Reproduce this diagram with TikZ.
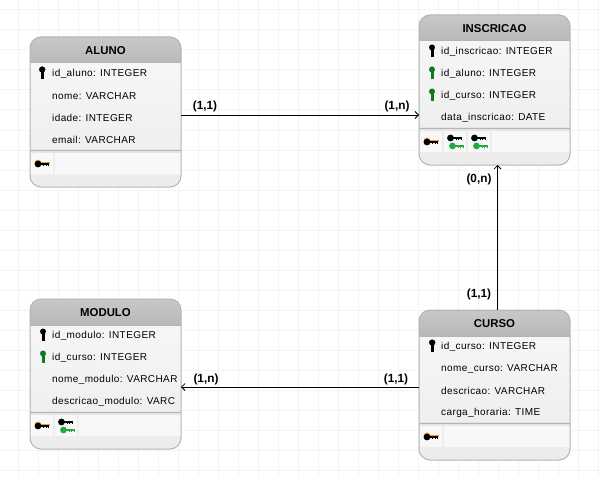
\documentclass[tikz,border=0pt]{standalone}
\usepackage{fontspec}
\setmainfont{Liberation Sans}
\newfontfamily\attrfont[LetterSpace=4]{Liberation Sans}
\usetikzlibrary{arrows.meta,calc,backgrounds}
\definecolor{gridc}{HTML}{EEF4FA}
\definecolor{edgec}{HTML}{B4B4B4}
\definecolor{headT}{HTML}{C8C8C8}
\definecolor{headB}{HTML}{B8B8B8}
\definecolor{bodyT}{HTML}{F6F6F6}
\definecolor{bodyB}{HTML}{ECECEC}
\definecolor{cellc}{HTML}{F8F8F8}
\definecolor{gapc}{HTML}{EDEDED}
\definecolor{keyG}{HTML}{0E7A1E}
\definecolor{keyL}{HTML}{22AA44}
\definecolor{keyO}{HTML}{F0A020}
\tikzset{
  x=1pt,y=-1pt,
  entbox/.style={minimum width=151pt,minimum height=150pt,inner sep=0pt,outer sep=0pt},
  attr/.style={anchor=west,inner sep=0pt,font=\attrfont\fontsize{10}{12}\selectfont,text=black},
  ttl/.style={anchor=center,inner sep=0pt,font=\bfseries\fontsize{11.4}{14}\selectfont},
  card/.style={inner sep=0pt,font=\bfseries\fontsize{11.8}{13}\selectfont},
  rel/.style={draw=black,line width=0.9pt,-{Straight Barb[length=3.5pt,width=7pt,line width=0.8pt]}},
}
% vertical key: centre, colour
\newcommand{\pkey}[2]{%
  \fill[#2] ($(#1)+(0,-3.5)$) circle (3);
  \fill[#2] ($(#1)+(-1.5,-3)$) rectangle ($(#1)+(1.5,6)$);
}
% horizontal key: head centre, colour
\newcommand{\hkey}[2]{%
  \fill[#2] (#1) circle (3.4);
  \fill[#2] ($(#1)+(0,-1.3)$) rectangle ($(#1)+(11,1.3)$);
  \foreach \t in {5,7.5,10} \fill[#2] ($(#1)+(\t,1)$) rectangle ($(#1)+(\t+1,2)$);
}
% primary key icon: black over orange
\newcommand{\opkey}[1]{%
  \fill[keyO] ($(#1)+(0,-2.4)$) rectangle ($(#1)+(12,0)$);
  \fill[keyO] ($(#1)+(0,-1)$) circle (3.4);
  \hkey{$(#1)+(0,0)$}{black}
}
% foreign index key pair: black head centre
\newcommand{\fkeys}[1]{%
  \hkey{$(#1)+(0,0)$}{black}
  \hkey{$(#1)+(2,8)$}{keyL}
}
% entity: name, top-left x, top-left y, title
\newcommand{\entity}[4]{%
  \node[entbox] (#1) at (#2+75.5,#3+75) {};
  \begin{scope}
    \clip[rounded corners=11pt] (#2,#3) rectangle ++(151,150);
    \shade[top color=headT,bottom color=headB] (#2,#3) rectangle ++(151,26);
    \shade[top color=bodyT,bottom color=bodyB] (#2,#3+26) rectangle ++(151,124);
    \fill[black!10] (#2,#3+112) rectangle ++(151,4);
    \fill[cellc] (#2,#3+116) rectangle ++(151,21);
    \fill[gapc] (#2+23,#3+116) rectangle ++(2,21);
    \draw[edgec,line width=1pt] (#2,#3+26) -- ++(151,0);
    \draw[edgec,line width=1pt] (#2,#3+113.5) -- ++(151,0);
  \end{scope}
  \draw[edgec,line width=1pt,rounded corners=11pt] (#2,#3) rectangle ++(151,150);
  \node[ttl] (#1t) at (#2+75.5,#3+14) {#4};
}
\newcommand{\cellgap}[2]{\fill[gapc] (#1,#2+116) rectangle ++(2,21);}
\begin{document}
\begin{tikzpicture}
\useasboundingbox (0,0) rectangle (599,476);
\fill[white] (0,0) rectangle (599,476);
\foreach \i in {0,...,29} \draw[gridc,line width=1pt] (\i*20+18,0) -- (\i*20+18,476);
\foreach \i in {0,...,23} \draw[gridc,line width=1pt] (0,\i*20+10) -- (599,\i*20+10);

\entity{aluno}{30}{37}{ALUNO}
\entity{insc}{419}{15}{INSCRICAO}
\entity{modulo}{30}{299}{MODULO}
\entity{curso}{419}{310}{CURSO}
\cellgap{466}{15}\cellgap{490}{15}\cellgap{77}{299}

% ALUNO
\node[attr] (a1) at (52,73.7) {id\_aluno: INTEGER};
\node[attr] (a2) at (52,95.7) {nome: VARCHAR};
\node[attr] (a3) at (52,117.7) {idade: INTEGER};
\node[attr] (a4) at (52,139.7) {email: VARCHAR};
\pkey{42.5,73}{keyG}\pkey{42,73}{black}
\opkey{38,164}

% INSCRICAO
\node[attr] (i1) at (441,51.7) {id\_inscricao: INTEGER};
\node[attr] (i2) at (441,73.7) {id\_aluno: INTEGER};
\node[attr] (i3) at (441,95.7) {id\_curso: INTEGER};
\node[attr] (i4) at (441,117.7) {data\_inscricao: DATE};
\pkey{432,51}{black}
\pkey{432,73}{keyG}
\pkey{432,95}{keyG}
\opkey{427,142}
\fkeys{450.5,138}
\fkeys{474.5,138}

% MODULO
\node[attr] (m1) at (52,335.7) {id\_modulo: INTEGER};
\node[attr] (m2) at (52,357.7) {id\_curso: INTEGER};
\node[attr] (m3) at (52,379.7) {nome\_modulo: VARCHAR};
\node[attr] (m4) at (52,401.7) {descricao\_modulo: VARC};
\pkey{43,335}{black}
\pkey{43,357}{keyG}
\opkey{38,426}
\fkeys{61.5,422}

% CURSO
\node[attr] (c1) at (441,346.7) {id\_curso: INTEGER};
\node[attr] (c2) at (441,368.7) {nome\_curso: VARCHAR};
\node[attr] (c3) at (441,390.7) {descricao: VARCHAR};
\node[attr] (c4) at (441,412.7) {carga\_horaria: TIME};
\pkey{432.5,346}{keyG}\pkey{432,346}{black}
\opkey{427,437}

% connectors
\draw[rel] ([yshift=-3pt]aluno.east) -- ([yshift=-3pt]aluno.east -| insc.west);
\draw[rel] ([xshift=3pt]curso.north) -- ([xshift=3pt]insc.south);
\draw[rel] ([yshift=-2pt]curso.west) -- ([yshift=-2pt]curso.west -| modulo.east);

\node[card] (l1) at (205,106) {(1,1)};
\node[card] (l2) at (397,106) {(1,n)};
\node[card] (l3) at (479,179) {(0,n)};
\node[card] (l4) at (479,294) {(1,1)};
\node[card] (l5) at (206,379) {(1,n)};
\node[card] (l6) at (396,379) {(1,1)};
\end{tikzpicture}
\end{document}
